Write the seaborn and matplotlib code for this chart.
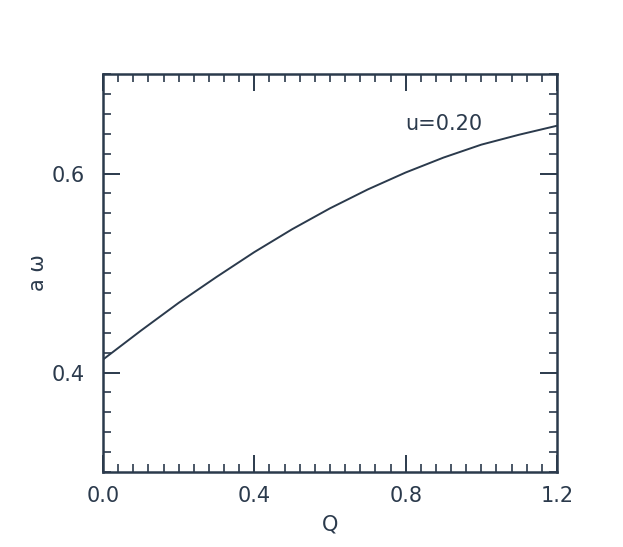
import pandas as pd
import matplotlib
matplotlib.use("Agg")
import matplotlib.pyplot as plt
from matplotlib.ticker import MultipleLocator, FormatStrFormatter
import seaborn as sns

# values
q_values = [0.0, 0.1, 0.2, 0.3, 0.4, 0.5, 0.6, 0.7, 0.8, 0.9, 1.0, 1.1, 1.2]
a_omega = [0.413, 0.442, 0.470, 0.496, 0.521, 0.544, 0.565,
           0.584, 0.601, 0.616, 0.629, 0.639, 0.648]
curve_label = "u=0.20"

INK = "#2b3a4c"


def main():
    sns.set_style("ticks")
    plt.rcParams['font.family'] = ['DejaVu Sans']

    df = pd.DataFrame({'Q': q_values, 'aw': a_omega})

    fig = plt.figure(figsize=(6.23, 5.47), dpi=100)
    ax = fig.add_axes([0.1653, 0.1371, 0.7287, 0.7276])

    sns.lineplot(data=df, x='Q', y='aw', ax=ax, color=INK, linewidth=1.4)

    ax.set_xlim(0.0, 1.2)
    ax.set_ylim(0.3, 0.7)

    # major / minor ticks, pointing inward on every side
    ax.xaxis.set_major_locator(MultipleLocator(0.4))
    ax.xaxis.set_minor_locator(MultipleLocator(0.04))
    ax.yaxis.set_major_locator(MultipleLocator(0.2))
    ax.yaxis.set_minor_locator(MultipleLocator(0.02))
    ax.xaxis.set_major_formatter(FormatStrFormatter('%.1f'))
    ax.yaxis.set_major_formatter(FormatStrFormatter('%.1f'))

    ax.tick_params(which='both', direction='in', top=True, right=True,
                   color=INK, labelcolor=INK, labelsize=15)
    ax.tick_params(which='major', length=12, width=1.4)
    ax.tick_params(which='minor', length=6, width=1.2)
    ax.tick_params(axis='x', which='major', pad=10)
    ax.tick_params(axis='y', which='major', pad=13)

    for side in ax.spines.values():
        side.set_color(INK)
        side.set_linewidth(1.8)

    ax.set_xlabel("Q", fontsize=15, color=INK, labelpad=6)
    ax.set_ylabel("a ω", fontsize=15, color=INK, labelpad=3)

    ax.text(0.8, 0.65, curve_label, fontsize=15, color=INK,
            ha='left', va='center')

    fig.savefig("out.png", dpi=100, facecolor='white')


if __name__ == "__main__":
    main()
